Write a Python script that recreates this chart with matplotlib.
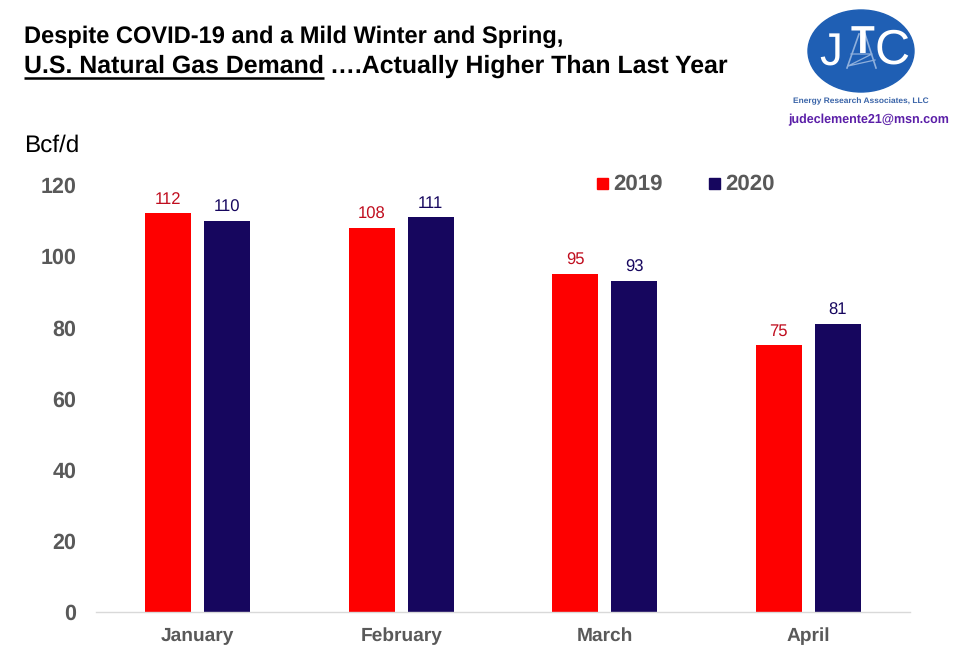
"""Recreate the U.S. natural gas demand bar chart."""

import numpy as np
import matplotlib
matplotlib.use("Agg")
import matplotlib.pyplot as plt
from matplotlib.patches import Ellipse

plt.rcParams["font.family"] = ["Liberation Sans", "DejaVu Sans"]
plt.rcParams["text.hinting"] = "no_hinting"

W, H = 960, 663

months = ["January", "February", "March", "April"]
demand_2019 = [112, 108, 95, 75]
demand_2020 = [110, 111, 93, 81]
y_ticks = [0, 20, 40, 60, 80, 100, 120]

RED = "#fe0000"
NAVY = "#16065e"
GREY = "#595959"

fig = plt.figure(figsize=(W / 100, H / 100), dpi=100)
ax = fig.add_axes([96 / W, 1 - 612 / H, 814 / W, 427 / H])

x = np.arange(len(months))
offset = 0.145
width = 0.225
ax.bar(x - offset, demand_2019, width, color=RED)
ax.bar(x + offset, demand_2020, width, color=NAVY)

for xi, v in zip(x, demand_2019):
    ax.annotate(str(v), (xi - offset, v), xytext=(0, 4), textcoords="offset points",
                ha="center", va="bottom", fontsize=12, color="#c00d1e")
for xi, v in zip(x, demand_2020):
    ax.annotate(str(v), (xi + offset, v), xytext=(0, 4), textcoords="offset points",
                ha="center", va="bottom", fontsize=12, color=NAVY)

ax.set_xlim(-0.5, 3.5)
ax.set_ylim(0, 120)
ax.set_xticks(x)
ax.set_xticklabels(months, fontsize=13.8, fontweight="bold", color=GREY)
ax.set_yticks(y_ticks)
ax.set_yticklabels(y_ticks, fontsize=15.5, fontweight="bold", color=GREY)
ax.tick_params(axis="both", length=0)
ax.tick_params(axis="x", pad=11)
ax.tick_params(axis="y", pad=14)
for side in ["top", "right", "left"]:
    ax.spines[side].set_visible(False)
ax.spines["bottom"].set_color("#d9d9d9")
ax.spines["bottom"].set_linewidth(1)

# overlay in pixel coordinates for the title, legend and logo
ov = fig.add_axes([0, 0, 1, 1])
ov.set_xlim(0, W)
ov.set_ylim(H, 0)
ov.axis("off")
ov.patch.set_alpha(0)

ov.text(24, 37, "Despite COVID-19 and a Mild Winter and Spring,", fontsize=17,
        fontweight="bold", va="center", ha="left", color="black")
t_u = ov.text(24, 66, "U.S. Natural Gas Demand", fontsize=17.9,
              fontweight="bold", va="center", ha="left", color="black")
fig.canvas.draw()
bb = t_u.get_window_extent()
ov.plot([24, bb.x1], [78, 78], color="black", lw=1.8, solid_capstyle="butt")
ov.text(bb.x1 + 6, 66, "….Actually Higher Than Last Year", fontsize=17.9,
        fontweight="bold", va="center", ha="left", color="black")

ov.text(24, 146, "Bcf/d", fontsize=17.5, va="center", ha="left", color="black")

# legend
ov.add_patch(plt.Rectangle((597, 178), 11, 11, color=RED))
ov.text(613, 184, "2019", fontsize=16, fontweight="bold", color=GREY, va="center", ha="left")
ov.add_patch(plt.Rectangle((709, 178), 11, 11, color=NAVY))
ov.text(725, 184, "2020", fontsize=16, fontweight="bold", color=GREY, va="center", ha="left")

# logo
ov.add_patch(Ellipse((861, 51), 106, 82, color="#1f5fb4"))
ov.plot([859, 847], [34, 68], color="#8fb0dc", lw=1.2)
ov.plot([865, 876], [34, 68], color="#8fb0dc", lw=1.2)
ov.plot([851, 872, 848, 875], [54, 54, 66, 60], color="#8fb0dc", lw=0.9)
ov.text(831, 54, "J", fontsize=33, color="white", va="center", ha="center")
ov.text(862, 43, "T", fontsize=28, fontweight="bold", color="white", va="center", ha="center")
ov.text(892, 51, "C", fontsize=35, color="white", va="center", ha="center")
ov.text(861, 101, "Energy Research Associates, LLC", fontsize=6, fontweight="bold",
        color="#3a64a8", va="center", ha="center")
ov.text(869, 120, "judeclemente21@msn.com", fontsize=9, fontweight="bold",
        color="#5b1fa8", va="center", ha="center")

fig.savefig("out.png", dpi=100)
